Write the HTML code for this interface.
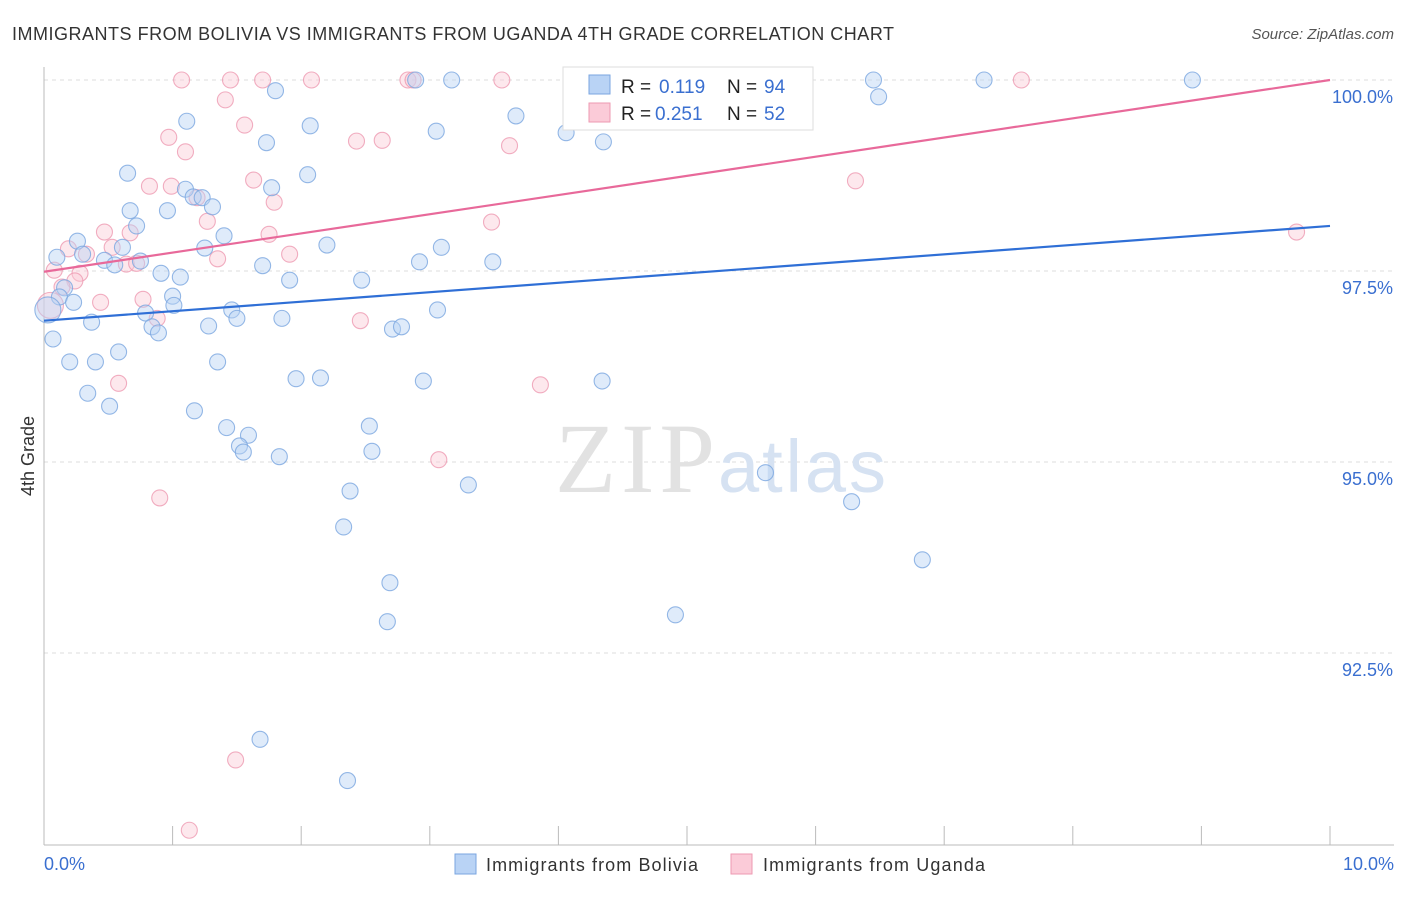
<!DOCTYPE html>
<html><head><meta charset="utf-8">
<style>
body{margin:0;background:#fff;font-family:"Liberation Sans",sans-serif;}
svg text{font-family:"Liberation Sans",sans-serif;}
</style></head>
<body>
<svg id="chart" width="1406" height="892">
<text x="12" y="40" font-size="18" fill="#333" textLength="882">IMMIGRANTS FROM BOLIVIA VS IMMIGRANTS FROM UGANDA 4TH GRADE CORRELATION CHART</text>
<text x="1394" y="39" font-size="15" fill="#555" font-style="italic" text-anchor="end">Source: ZipAtlas.com</text>
<text x="34" y="456" font-size="18" fill="#333" text-anchor="middle" transform="rotate(-90 34 456)">4th Grade</text>
<g id="grid"></g>
<g id="axes"></g>
<text x="555" y="492" font-size="100" fill="#e2e2e2" textLength="160" font-family="Liberation Serif" style="font-family:'Liberation Serif',serif">ZIP</text>
<text x="718" y="492" font-size="74" fill="#d6e2f2" textLength="168">atlas</text>
<g id="pts"></g>
<g id="lines"></g>
<g>
<rect x="563" y="67" width="250" height="63" fill="#fff" stroke="#ddd"/>
<rect x="589" y="75" width="21" height="19" fill="#b9d3f5" stroke="#7aa6e0"/>
<rect x="589" y="103" width="21" height="19" fill="#fbcbd8" stroke="#ee9ab2"/>
<text x="621" y="93" font-size="19" fill="#222">R = </text><text x="659" y="93" font-size="19" fill="#3a6fd0">0.119</text>
<text x="727" y="93" font-size="19" fill="#222">N = </text><text x="764" y="93" font-size="19" fill="#3a6fd0">94</text>
<text x="621" y="120" font-size="19" fill="#222">R = </text><text x="655" y="120" font-size="19" fill="#3a6fd0">0.251</text>
<text x="727" y="120" font-size="19" fill="#222">N = </text><text x="764" y="120" font-size="19" fill="#3a6fd0">52</text>
</g>
<g>
<rect x="455" y="854" width="21" height="20" fill="#b9d3f5" stroke="#7aa6e0"/>
<text x="486" y="871" font-size="18" fill="#333" textLength="212">Immigrants from Bolivia</text>
<rect x="731" y="854" width="21" height="20" fill="#fbcbd8" stroke="#ee9ab2"/>
<text x="763" y="871" font-size="18" fill="#333" textLength="222">Immigrants from Uganda</text>
</g>
<text x="44" y="870" font-size="18" fill="#3a6fd0">0.0%</text>
<text x="1394" y="870" font-size="18" fill="#3a6fd0" text-anchor="end">10.0%</text>
</svg>
<script>
const yTicks=[100,97.5,95,92.5];
const yTickLabels=["100.0%","97.5%","95.0%","92.5%"];
const blueX=[4.11,2.89,3.17,4.99,5.54,6.45,7.31,8.93,1.80,6.49,1.11,2.07,3.67,3.05,4.06,1.73,4.35,0.65,2.05,1.77,1.10,1.16,1.23,1.31,0.67,0.96,0.72,1.40,0.26,0.10,0.30,0.61,1.25,2.20,3.09,0.47,0.55,0.75,1.70,2.92,3.49,0.91,1.06,1.91,2.47,0.16,0.12,0.23,1.00,1.01,0.79,1.46,1.50,3.06,0.37,1.28,1.85,0.84,0.89,2.71,2.78,0.07,0.58,0.20,0.40,1.35,1.96,2.15,2.95,4.34,0.34,0.51,1.17,1.42,2.53,1.59,1.52,1.55,2.55,1.83,5.61,3.30,2.38,6.28,2.33,6.83,2.69,4.91,2.67,1.68,2.36,0.03];
const blueY=[100,100,100,100,100,100,100,100,99.86,99.78,99.46,99.40,99.53,99.33,99.31,99.18,99.19,98.78,98.76,98.59,98.57,98.47,98.46,98.34,98.29,98.29,98.09,97.96,97.89,97.68,97.72,97.81,97.80,97.84,97.81,97.64,97.58,97.63,97.57,97.62,97.62,97.47,97.42,97.38,97.38,97.28,97.16,97.09,97.17,97.05,96.95,96.99,96.88,96.99,96.83,96.78,96.88,96.77,96.69,96.74,96.77,96.61,96.44,96.31,96.31,96.31,96.09,96.10,96.06,96.06,95.90,95.73,95.67,95.45,95.47,95.35,95.21,95.13,95.14,95.07,94.86,94.70,94.62,94.48,94.15,93.72,93.42,93.00,92.91,91.37,90.83,96.99];
const pinkX=[1.07,1.45,1.70,2.08,2.83,2.87,3.56,7.60,1.41,1.56,0.97,2.43,2.63,3.62,1.10,0.82,1.63,0.99,1.19,1.79,6.31,1.27,3.48,0.47,0.67,1.75,9.74,0.19,0.53,0.33,1.91,1.35,0.64,0.72,0.08,0.28,0.24,0.14,0.44,0.77,0.88,2.46,0.58,3.86,0.90,3.07,1.49,1.13,0.05];
const pinkY=[100,100,100,100,100,100,100,100,99.74,99.41,99.25,99.20,99.21,99.14,99.06,98.61,98.69,98.61,98.46,98.40,98.68,98.15,98.14,98.01,98.00,97.98,98.01,97.79,97.81,97.72,97.72,97.66,97.59,97.60,97.51,97.47,97.37,97.29,97.09,97.13,96.88,96.85,96.03,96.01,94.53,95.03,91.10,90.18,97.05];
const blueTrend=[96.85,98.09];
const pinkTrend=[97.49,100.0];
const NS="http://www.w3.org/2000/svg";
const X0=44,X1=1330,Y100=80,PX25=191;
function sx(v){return X0+(X1-X0)*v/10;}
function sy(v){return Y100+(100-v)/2.5*PX25;}
function mk(t,a,p){const e=document.createElementNS(NS,t);for(const k in a)e.setAttribute(k,a[k]);p.appendChild(e);return e;}
const grid=document.getElementById('grid'),axes=document.getElementById('axes');
yTicks.forEach((v,i)=>{
 const l=mk('line',{x1:X0,x2:1394,y1:sy(v),y2:sy(v),stroke:'#ddd','stroke-dasharray':'4,4'},grid);
 
 
 const t=mk('text',{x:1393,y:sy(v)+23,'font-size':18,fill:'#3a6fd0','text-anchor':'end'},axes);
 t.textContent=yTickLabels[i];
 
 
});
const ax=mk('line',{x1:X0,x2:X0,y1:67,y2:845,stroke:'#bbb'},axes);


const bx=mk('line',{x1:X0,x2:1394,y1:845,y2:845,stroke:'#bbb'},axes);


for(let i=1;i<=10;i++){
 const t=mk('line',{x1:sx(i),x2:sx(i),y1:826,y2:845,stroke:'#bbb'},axes);
 
 
}
const pts=document.getElementById('pts');
function draw(xs,ys,fill,stroke,name){
 xs.forEach((x,i)=>{
  const big=(i===xs.length-1);
  const c=mk('circle',{cx:sx(x),cy:sy(ys[i]),r:big?13:8,fill:fill,'fill-opacity':0.45,stroke:stroke,'stroke-opacity':0.8,'stroke-width':1.1},pts);
  
  
 });
}
draw(pinkX,pinkY,'#fbcbd8','#ee9ab2','uganda-point');
draw(blueX,blueY,'#b9d3f5','#7aa6e0','bolivia-point');
const lines=document.getElementById('lines');
const lb=mk('line',{x1:sx(0),y1:sy(blueTrend[0]),x2:sx(10),y2:sy(blueTrend[1]),stroke:'#2f6fd6','stroke-width':2.2},lines);


const lp=mk('line',{x1:sx(0),y1:sy(pinkTrend[0]),x2:sx(10),y2:sy(pinkTrend[1]),stroke:'#e8699a','stroke-width':2.2},lines);


</script>
</body></html>
